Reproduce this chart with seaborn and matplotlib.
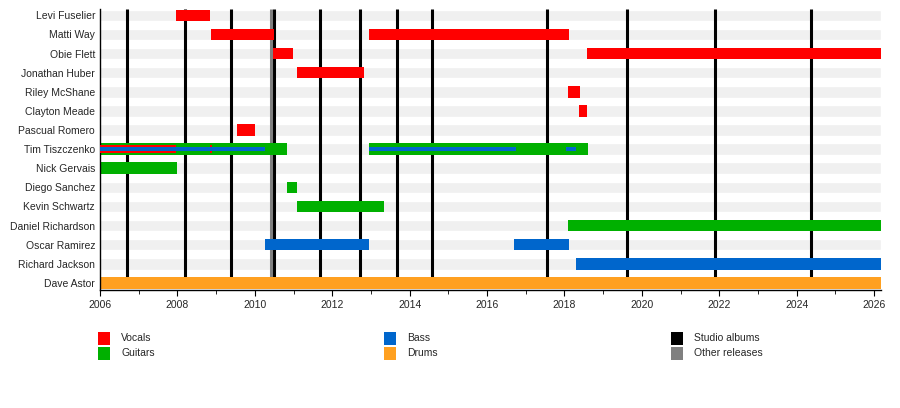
import matplotlib
matplotlib.use("Agg")
import matplotlib.pyplot as plt
import seaborn as sns
import pandas as pd
from matplotlib.patches import Rectangle

# ---------------------------------- DATOS ----------------------------------

miembros = ["Levi Fuselier", "Matti Way", "Obie Flett", "Jonathan Huber", "Riley McShane",
            "Clayton Meade", "Pascual Romero", "Tim Tiszczenko", "Nick Gervais", "Diego Sanchez",
            "Kevin Schwartz", "Daniel Richardson", "Oscar Ramirez", "Richard Jackson", "Dave Astor"]

# periodos (miembro, rol, inicio, fin)
periodo_miembro = ["Levi Fuselier", "Matti Way", "Matti Way", "Obie Flett", "Obie Flett",
                   "Jonathan Huber", "Riley McShane", "Clayton Meade", "Pascual Romero",
                   "Tim Tiszczenko", "Tim Tiszczenko", "Nick Gervais", "Diego Sanchez",
                   "Kevin Schwartz", "Daniel Richardson", "Oscar Ramirez", "Oscar Ramirez",
                   "Richard Jackson", "Dave Astor"]
periodo_rol = ["Vocals", "Vocals", "Vocals", "Vocals", "Vocals",
               "Vocals", "Vocals", "Vocals", "Vocals",
               "Guitars", "Guitars", "Guitars", "Guitars",
               "Guitars", "Guitars", "Bass", "Bass",
               "Bass", "Drums"]
periodo_inicio = [2007.97, 2008.88, 2012.94, 2010.48, 2018.58,
                  2011.08, 2018.08, 2018.37, 2009.55,
                  2006.0, 2012.94, 2006.0, 2010.82,
                  2011.08, 2018.08, 2010.27, 2016.71,
                  2018.29, 2006.0]
periodo_fin = [2008.85, 2010.50, 2018.11, 2010.99, 2026.18,
               2012.83, 2018.39, 2018.59, 2010.01,
               2010.84, 2018.60, 2008.00, 2011.09,
               2013.33, 2026.18, 2012.96, 2018.11,
               2026.18, 2026.18]

# roles secundarios de Tim (barras finas)
tim_rol = ["Vocals", "Vocals", "Bass", "Bass", "Bass"]
tim_inicio = [2006.0, 2008.85, 2006.0, 2012.94, 2018.05]
tim_fin = [2007.97, 2008.90, 2010.27, 2016.74, 2018.31]

# lanzamientos
albumes_estudio = [2006.71, 2008.20, 2009.39, 2010.49, 2011.68, 2012.71, 2013.67,
                   2014.58, 2017.55, 2019.62, 2021.90, 2024.38]
otros_lanzamientos = [2010.42]

fecha_fin = 2026.18

colores = {"Vocals": "#FF0000", "Guitars": "#00B000", "Bass": "#0066CC", "Drums": "#FFA020"}

df = pd.DataFrame({"miembro": periodo_miembro, "rol": periodo_rol,
                   "inicio": periodo_inicio, "fin": periodo_fin})
df_tim = pd.DataFrame({"rol": tim_rol, "inicio": tim_inicio, "fin": tim_fin})

# ---------------------------------- GRAFICO ----------------------------------

sns.set_style("white")
plt.rcParams["font.family"] = ["Liberation Sans", "DejaVu Sans"]

fig = plt.figure(figsize=(9, 4.08), dpi=100)
ax = fig.add_axes([100 / 900, 1 - 290 / 408, 781 / 900, 281 / 408])

# Bandas de fondo grises (una por miembro)
fondo = pd.DataFrame({"miembro": miembros, "valor": [fecha_fin] * len(miembros)})
sns.barplot(data=fondo, x="valor", y="miembro", order=miembros, color="#F0F0F0",
            width=0.6, saturation=1, ax=ax, zorder=0)

# Lineas de lanzamientos (terminan dentro de la ultima barra)
y_arriba, y_abajo = -0.33, len(miembros) - 1 + 0.1
ax.vlines(albumes_estudio, y_arriba, y_abajo, color="black", lw=2.2, zorder=1,
          capstyle="butt")
ax.vlines(otros_lanzamientos, y_arriba, y_abajo, color="#808080", lw=2.2, zorder=1,
          capstyle="butt")

# Barras principales
pos = {m: i for i, m in enumerate(miembros)}
for _, r in df.iterrows():
    ax.barh(pos[r["miembro"]], r["fin"] - r["inicio"], left=r["inicio"], height=0.6,
            color=colores[r["rol"]], linewidth=0, zorder=2)

# Barras finas de Tim
alturas = {"Vocals": 0.4, "Bass": 0.2}
for _, r in df_tim.iterrows():
    ax.barh(pos["Tim Tiszczenko"], r["fin"] - r["inicio"], left=r["inicio"],
            height=alturas[r["rol"]], color=colores[r["rol"]], linewidth=0, zorder=3)

# Ejes
ax.set_xlim(2006, fecha_fin)
ax.set_ylim(14.37, y_arriba)
ax.set_xlabel("")
ax.set_ylabel("")
ax.set_xticks(range(2006, 2027, 2))
ax.set_xticks(range(2006, 2027), minor=True)
ax.tick_params(axis="x", which="major", length=4, width=0.8, color="black",
               labelsize=7.5, pad=3, bottom=True)
ax.tick_params(axis="x", which="minor", length=3, width=0.6, color="black", bottom=True)
ax.tick_params(axis="y", length=0, labelsize=7.5, pad=3.6)
for s in ["top", "right"]:
    ax.spines[s].set_visible(False)
for s in ["left", "bottom"]:
    ax.spines[s].set_color("black")
    ax.spines[s].set_linewidth(1)

# Leyenda manual
leyenda = [("Vocals", colores["Vocals"], 98, 338), ("Guitars", colores["Guitars"], 98, 353.5),
           ("Bass", colores["Bass"], 384, 338), ("Drums", colores["Drums"], 384, 353.5),
           ("Studio albums", "black", 671, 338), ("Other releases", "#808080", 671, 353.5)]
for texto, color, x, y in leyenda:
    fig.add_artist(Rectangle((x / 900, 1 - (y + 6.5) / 408), 12 / 900, 13 / 408,
                             transform=fig.transFigure, color=color, linewidth=0))
    fig.text((x + 23) / 900, 1 - y / 408, texto, fontsize=7.5, va="center", ha="left")

fig.savefig("out.png", dpi=100)
